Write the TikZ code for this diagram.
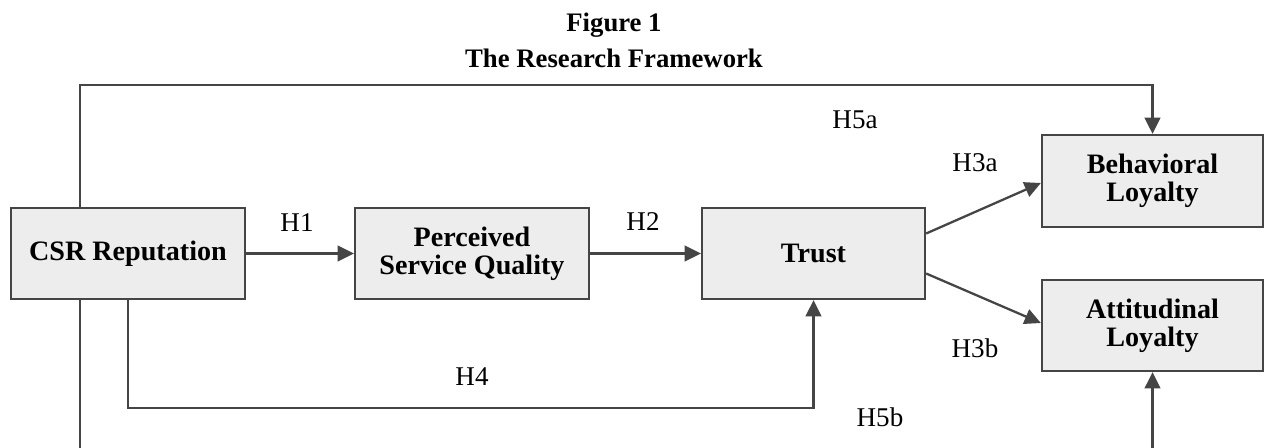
\documentclass[tikz,border=0pt]{standalone}
\usepackage{fontspec}
\setmainfont{Liberation Serif}
\usetikzlibrary{arrows.meta}
\definecolor{linegray}{HTML}{454545}
\definecolor{boxgray}{HTML}{EDEDED}

\begin{document}
\begin{tikzpicture}[>={Triangle[length=4.6pt,width=4.4pt]},
box/.style={draw=linegray,fill=boxgray,line width=0.65pt,align=center,
  font=\fontsize{8}{8}\selectfont\bfseries,inner sep=0pt,
  minimum width=2.34cm,minimum height=0.91cm},
hyp/.style={font=\fontsize{7.7}{9}\selectfont},
caption/.style={font=\fontsize{7.6}{9}\selectfont\bfseries},
link/.style={color=linegray,line width=0.65pt}]
\useasboundingbox (0,0) rectangle (12.64,-4.47);
\node[caption](fig) at (6.14,-0.25){Figure 1};
\node[caption](title) at (6.14,-0.58){The Research Framework};
\node[box](csr) at (1.28,-2.535){CSR Reputation};
\node[box](psq) at (4.72,-2.535){Perceived\\Service Quality};
\node[box,minimum width=2.23cm](trust) at (8.135,-2.535){Trust};
\node[box,minimum width=2.21cm,minimum height=0.92cm](beh) at (11.525,-1.81){Behavioral\\Loyalty};
\node[box,minimum width=2.21cm](att) at (11.525,-3.255){Attitudinal\\Loyalty};
\coordinate (h5a) at (11.525,-0.85);
\coordinate (h4) at (8.135,-4.08);
\coordinate (h5b) at (11.525,-4.50);
\path[->,link](csr) edge (psq);
\path[->,link](psq) edge (trust);
\path[->,link]([yshift=2mm]trust.east) edge ([yshift=-0.2mm]beh.west);
\path[->,link]([yshift=-2mm]trust.east) edge ([yshift=0.25mm]att.west);
\draw[->,link]([xshift=-4.8mm]csr.north) |- (h5a) -- (beh.north);
\draw[->,link](csr.south) |- (h4) -- (trust.south);
\draw[->,link]([xshift=-4.8mm]csr.south) |- (h5b) -- (att.south);
\node[hyp](l1) at (2.97,-2.23){H1};
\node[hyp](l2) at (6.43,-2.22){H2};
\node[hyp](l3a) at (9.75,-1.63){H3a};
\node[hyp](l3b) at (9.75,-3.48){H3b};
\node[hyp](l4) at (4.72,-3.77){H4};
\node[hyp](l5a) at (8.55,-1.20){H5a};
\node[hyp](l5b) at (8.80,-4.17){H5b};
\end{tikzpicture}
\end{document}
